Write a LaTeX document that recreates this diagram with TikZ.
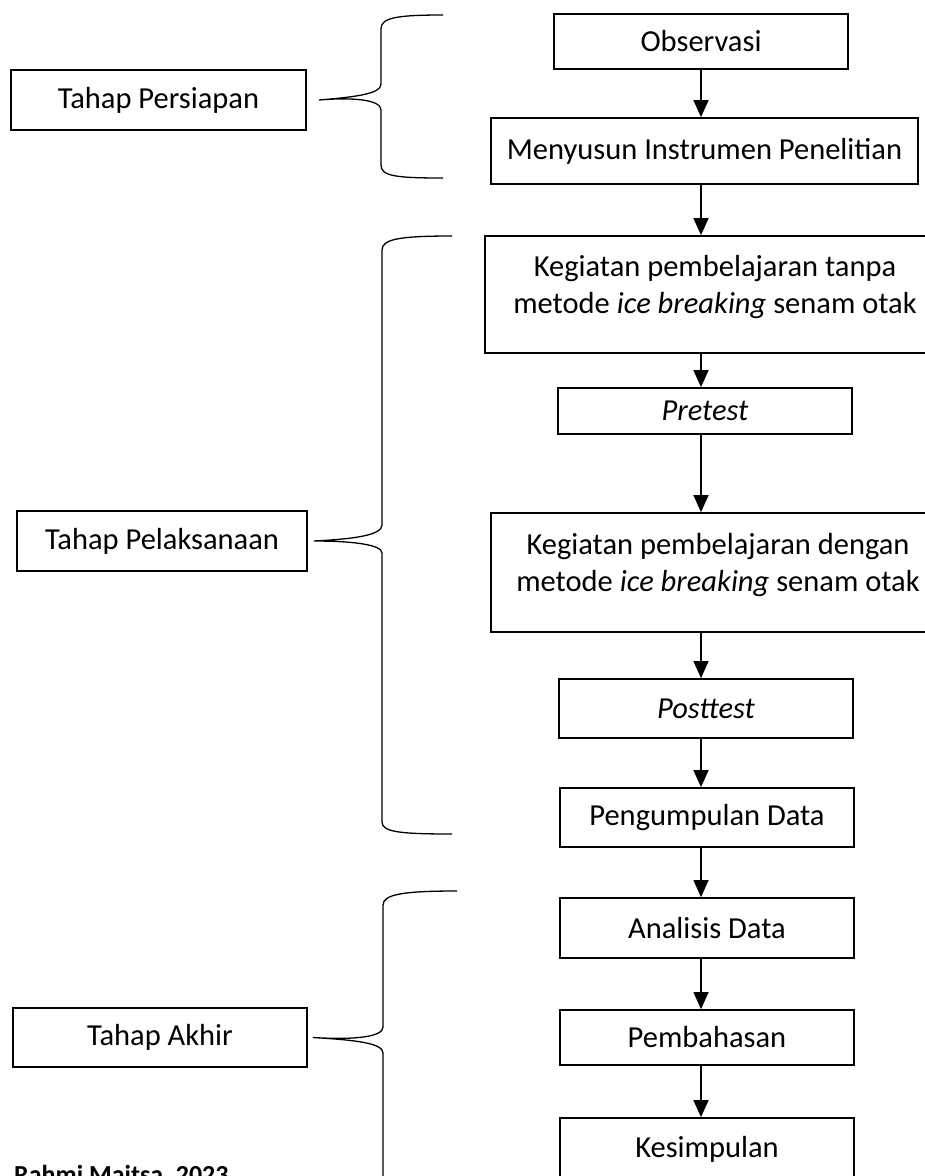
\documentclass[tikz,border=0pt]{standalone}
\usepackage{fontspec}
\setmainfont{Carlito}
\usetikzlibrary{positioning,calc,arrows.meta}

\begin{document}
\begin{tikzpicture}[x=1pt,y=-1pt,
    txt/.style={font=\fontsize{30.5}{37}\selectfont, align=center, inner sep=0pt},
    box/.style={txt, draw, line width=1.7pt},
    arr/.style={-{Triangle[length=17pt,width=15pt]}, line width=1.3pt},
    brace/.style={line width=1.3pt}]
    \useasboundingbox (0,0) rectangle (925,1176);
    \clip (0,0) rectangle (925,1176);

      % Stages
      \node[box, minimum width=295pt, minimum height=60pt] (persiapan) at (158.5,100) {Tahap Persiapan};
      \node[box, minimum width=290pt, minimum height=60pt] (pelaksanaan) at (162,541) {Tahap Pelaksanaan};
      \node[box, minimum width=294pt, minimum height=59pt] (akhir) at (160,1037.5) {Tahap Akhir};

      % Steps
      \node[box, minimum width=294pt, minimum height=55pt] (observasi) at (701,41.5) {Observasi};
      \node[box, minimum width=427pt, minimum height=66pt] (instrumen) at (704.5,151) {Menyusun Instrumen Penelitian};
      \node[box, minimum width=460pt, minimum height=117pt] (tanpa) at (715,294.5) {};
      \node[txt] (tanpatxt) at ([yshift=7pt]tanpa.center) {Kegiatan pembelajaran tanpa\\ metode \textit{ice breaking} senam otak};
      \node[box, minimum width=294pt, minimum height=46pt] (pretest) at (705,411) {\textit{Pretest}};
      \node[box, minimum width=454pt, minimum height=119pt] (dengan) at (718,572.5) {};
      \node[txt] (dengantxt) at ([yshift=7pt]dengan.center) {Kegiatan pembelajaran dengan\\ metode \textit{ice breaking} senam otak};
      \node[box, minimum width=294pt, minimum height=59pt] (posttest) at (706,708.5) {\textit{Posttest}};
      \node[box, minimum width=294pt, minimum height=59pt] (pengumpulan) at (707,817.5) {Pengumpulan Data};
      \node[box, minimum width=294pt, minimum height=60pt] (analisis) at (707,928) {Analisis Data};
      \node[box, minimum width=294pt, minimum height=55pt] (pembahasan) at (707,1037.5) {Pembahasan};
      \node[box, minimum width=294pt, minimum height=62pt] (kesimpulan) at (707,1149) {Kesimpulan};

      % Arrows
      \foreach \a/\b in {observasi/instrumen, instrumen/tanpa, tanpa/pretest, pretest/dengan,
          dengan/posttest, posttest/pengumpulan, pengumpulan/analisis, analisis/pembahasan,
          pembahasan/kesimpulan}
      \draw[arr] (\a.south -| observasi) -- (\b.north -| observasi);

      % Braces
      \coordinate (tip1) at ([xshift=12pt]persiapan.east);
      \coordinate (tip2) at ([xshift=6pt]pelaksanaan.east);
      \coordinate (tip3) at ([xshift=5pt]akhir.east);
      \draw[brace] (443,15) .. controls (395,15) and (381,18) .. (381,29) -- (381,84)
          .. controls (381,94) and (355,97) .. (tip1)
          .. controls (355,97) and (381,100) .. (381,110) -- (381,165)
          .. controls (381,176) and (395,178) .. (443,178);
      \draw[brace] (452,236) .. controls (400,236) and (382,239) .. (382,250) -- (382,525)
          .. controls (382,535) and (355,539) .. (tip2)
          .. controls (355,541) and (382,545) .. (382,553) -- (382,822)
          .. controls (382,832) and (400,834) .. (452,834);
      \draw[brace] (457,891) .. controls (405,891) and (383,894) .. (383,905) -- (383,1027)
          .. controls (383,1037) and (355,1040) .. (tip3)
          .. controls (355,1040) and (383,1043) .. (383,1053) -- (383,1200);

      % Source
      \node[anchor=north west, inner sep=0pt, font=\bfseries\fontsize{26}{31}\selectfont] (sumber) at (14,1165) {Rahmi Maitsa, 2023};
\end{tikzpicture}
\end{document}
